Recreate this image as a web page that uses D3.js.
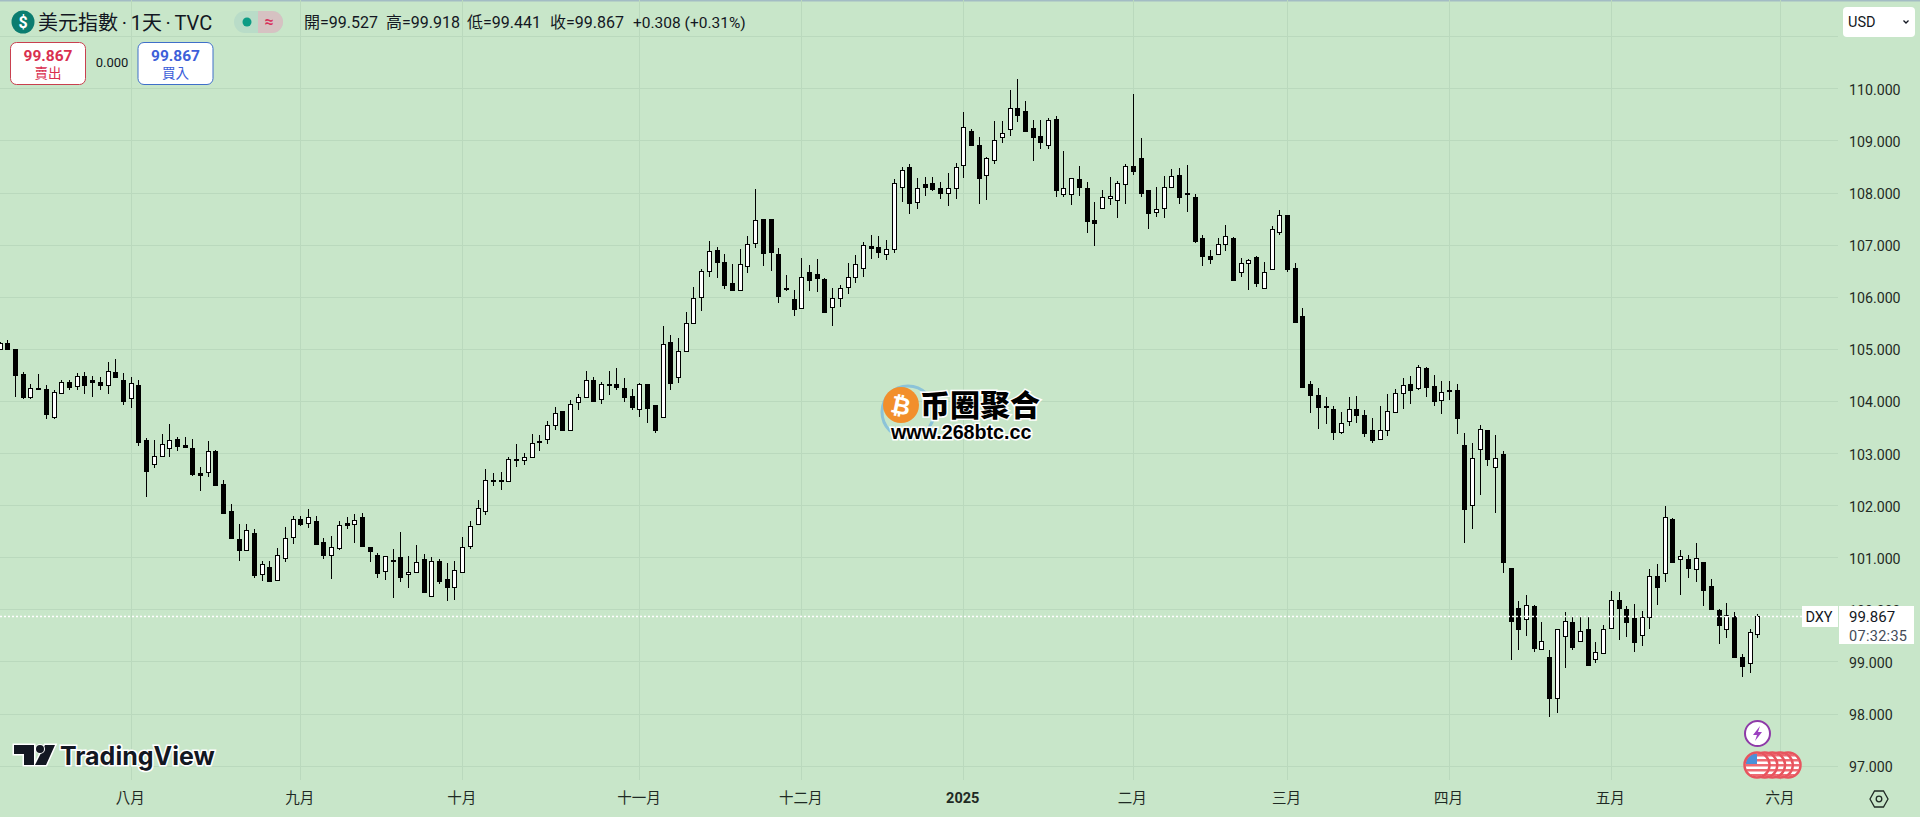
<!DOCTYPE html>
<html>
<head>
<meta charset="utf-8">
<script src="https://cdn.jsdelivr.net/npm/d3@7"></script>
<style>
    html, body { margin: 0; padding: 0; background: #fff; overflow: hidden; }
    text { font-family: Roboto, "Noto Sans CJK TC", sans-serif; }
</style>
</head>
<body>
<div id="chart"></div>
<script>
// DXY daily candles
let opens = [
    104.99,105.12,104.99,104.52,104.08,104.24,104.22,103.70,104.16,104.36,
    104.29,104.48,104.40,104.36,104.31,104.55,104.41,104.06,104.31,103.24,
    102.78,102.95,103.09,103.26,103.15,103.09,102.61,102.63,103.04,102.40,
    101.88,101.34,101.13,101.46,100.67,100.81,100.56,100.99,101.38,101.73,
    101.66,101.69,101.29,101.05,101.18,101.65,101.64,101.77,101.19,101.04,
    100.74,100.95,101.00,100.68,100.72,100.96,100.26,100.92,100.59,100.42,
    100.72,101.22,101.63,101.89,102.48,102.48,102.47,102.88,102.87,102.92,
    103.23,103.26,103.54,103.80,103.44,103.97,104.08,104.41,104.04,104.32,
    104.32,104.24,104.09,103.85,104.32,103.92,103.70,105.14,104.45,104.95,
    105.49,106.00,106.49,106.89,106.66,106.26,106.12,106.58,107.04,107.49,
    107.49,106.81,106.16,105.95,105.78,106.47,106.43,106.34,105.80,105.97,
    106.18,106.37,106.56,106.97,106.95,106.81,106.92,108.10,108.48,107.81,
    108.16,108.18,108.08,108.00,108.08,108.52,109.19,108.92,108.33,108.62,
    109.07,109.22,109.63,109.56,109.23,109.08,108.92,109.41,107.98,107.98,
    108.25,108.09,107.47,107.71,107.89,107.85,108.16,108.50,108.67,108.04,
    107.62,107.70,108.10,108.33,108.00,107.91,107.12,106.79,106.81,107.02,
    107.12,106.47,106.64,106.76,106.17,106.53,107.25,107.56,106.56,105.62,
    104.32,104.11,103.90,103.84,103.41,103.61,103.84,103.72,103.44,103.26,
    103.44,103.78,104.15,104.32,104.24,104.64,104.28,104.01,104.21,104.20,
    103.15,102.00,103.07,103.44,102.74,102.99,100.79,100.02,99.81,100.06,
    99.23,99.08,98.29,99.48,99.75,99.40,99.62,99.04,99.17,99.65,
    100.17,100.00,99.83,99.50,99.85,100.63,100.69,101.73,100.96,100.96,
    100.77,100.90,100.44,99.98,99.63,99.88,99.08,98.96,99.527
];
let highs = [
    105.14,105.17,105.00,104.55,104.32,104.52,104.30,104.21,104.41,104.41,
    104.54,104.55,104.48,104.45,104.75,104.80,104.53,104.45,104.41,103.29,
    103.24,103.37,103.56,103.30,103.31,103.27,102.73,103.23,103.05,102.48,
    102.02,101.64,101.64,101.55,100.93,100.92,101.18,101.58,101.79,101.80,
    101.92,101.79,101.36,101.41,101.70,101.78,101.83,101.85,101.19,101.09,
    101.02,101.16,101.48,101.02,101.23,101.06,101.00,100.97,100.88,100.92,
    101.38,101.70,102.09,102.69,102.61,102.63,102.93,103.17,103.00,103.36,
    103.35,103.61,103.88,103.80,104.01,104.13,104.57,104.45,104.36,104.57,
    104.63,104.43,104.22,104.34,104.32,103.93,105.44,105.26,105.21,105.70,
    106.18,106.53,107.07,106.95,106.81,106.62,106.91,107.16,108.06,107.49,
    107.50,106.93,106.41,106.13,106.74,106.60,106.72,106.36,106.16,106.22,
    106.64,106.80,107.05,107.18,107.16,107.08,108.26,108.48,108.54,108.27,
    108.29,108.29,108.20,108.37,108.57,109.54,109.21,109.06,108.69,109.37,
    109.37,109.97,110.18,109.76,109.39,109.39,109.43,109.46,108.80,108.27,
    108.50,108.20,107.82,108.04,108.29,108.23,108.55,109.89,109.04,108.05,
    108.10,108.31,108.45,108.47,108.53,107.98,107.18,106.89,107.12,107.38,
    107.15,106.74,106.73,106.79,106.67,107.35,107.66,107.56,106.64,105.78,
    104.39,104.24,104.07,103.91,103.78,104.07,104.09,103.83,103.67,103.90,
    104.13,104.22,104.44,104.47,104.69,104.65,104.49,104.39,104.38,104.32,
    103.38,103.19,103.53,103.44,103.34,103.03,100.79,100.15,100.27,100.09,
    99.76,99.22,99.63,99.94,99.85,99.88,99.85,99.37,99.70,100.36,
    100.33,100.06,100.10,99.96,100.77,100.86,101.98,101.76,101.13,101.05,
    101.27,100.91,100.58,100.00,100.12,99.94,99.15,99.62,99.918
];
let lows = [
    104.98,104.98,104.08,104.04,104.04,104.21,103.66,103.66,104.13,104.20,
    104.21,104.13,104.08,104.21,104.13,104.45,103.92,103.86,103.14,102.16,
    102.71,102.93,102.92,103.04,103.10,102.56,102.27,102.54,102.38,101.83,
    101.37,100.93,101.11,100.60,100.55,100.52,100.55,100.90,101.26,101.59,
    101.56,101.23,100.97,100.58,101.14,101.54,101.27,101.21,100.90,100.61,
    100.56,100.22,100.52,100.41,100.71,100.33,100.24,100.49,100.16,100.18,
    100.70,101.16,101.62,101.81,102.37,102.29,102.46,102.74,102.77,102.91,
    103.04,103.17,103.44,103.44,103.43,103.83,104.07,104.00,103.94,104.11,
    104.21,103.98,103.83,103.69,103.58,103.38,103.69,104.20,104.35,104.95,
    105.48,105.73,106.38,106.35,106.14,106.12,106.12,106.46,106.94,106.59,
    106.50,105.87,106.10,105.62,105.77,106.10,106.09,105.71,105.43,105.81,
    106.06,106.27,106.37,106.73,106.74,106.71,106.83,107.82,107.59,107.68,
    107.94,108.03,107.87,107.74,107.87,108.28,108.91,107.77,107.86,108.55,
    108.95,109.08,109.35,109.18,108.60,108.83,108.83,107.91,107.91,107.76,
    107.93,107.22,106.97,107.69,107.76,107.51,107.78,108.33,107.91,107.30,
    107.53,107.51,108.09,107.78,107.63,107.04,106.58,106.63,106.81,106.88,
    106.32,106.38,106.13,106.19,106.17,106.52,107.18,106.48,105.51,104.25,
    103.77,103.47,103.56,103.24,103.37,103.52,103.58,103.31,103.20,103.26,
    103.33,103.77,103.85,103.95,104.20,104.08,103.90,103.75,104.02,103.37,
    101.28,101.55,102.20,102.75,101.85,100.70,99.03,99.22,99.49,99.19,
    99.23,97.94,98.01,98.88,99.22,99.40,98.92,98.96,99.16,99.63,
    99.42,99.47,99.19,99.30,99.62,100.08,100.52,100.91,100.27,100.61,
    100.52,100.06,100.00,99.34,99.45,99.06,98.70,98.78,99.441
];
let closes = [
    105.12,104.99,104.49,104.08,104.25,104.22,103.74,104.18,104.36,104.27,
    104.47,104.31,104.37,104.31,104.57,104.45,104.00,104.34,103.22,102.66,
    102.94,103.18,103.24,103.14,103.12,102.60,102.57,103.03,102.39,101.84,
    101.37,101.13,101.52,100.66,100.86,100.55,101.04,101.36,101.73,101.64,
    101.77,101.25,101.04,101.19,101.61,101.62,101.71,101.22,101.11,100.70,
    101.02,100.93,100.62,100.72,100.90,100.34,100.92,100.55,100.42,100.75,
    101.20,101.59,101.94,102.48,102.46,102.46,102.88,102.87,102.92,103.20,
    103.22,103.53,103.76,103.44,103.95,104.07,104.41,104.00,104.32,104.31,
    104.27,104.07,103.89,104.32,103.87,103.44,105.10,104.35,104.95,105.50,
    105.97,106.49,106.87,106.67,106.23,106.13,106.62,107.02,107.48,106.83,
    106.86,106.02,106.14,105.77,106.37,106.32,106.35,105.71,105.97,106.16,
    106.37,106.62,107.00,106.94,106.85,106.92,108.19,108.43,107.80,108.08,
    108.11,108.07,108.00,108.08,108.48,109.25,108.92,108.27,108.67,109.00,
    109.15,109.63,109.49,109.19,109.07,108.96,109.40,108.05,108.08,108.27,
    108.11,107.46,107.42,107.91,107.94,108.18,108.50,108.42,108.00,107.61,
    107.69,108.10,108.32,107.92,107.97,107.06,106.79,106.73,107.02,107.16,
    106.33,106.64,106.70,106.27,106.47,107.29,107.56,106.53,105.52,104.26,
    104.12,103.89,103.89,103.41,103.57,103.84,103.72,103.39,103.24,103.45,
    103.80,104.15,104.30,104.20,104.66,104.27,104.00,104.18,104.19,103.68,
    101.93,102.90,103.47,102.89,102.90,100.91,99.78,99.63,100.09,99.26,
    99.40,98.30,99.63,99.77,99.28,99.58,98.93,99.19,99.63,100.17,
    100.03,99.76,99.38,99.86,100.63,100.42,101.78,100.91,101.02,100.80,
    100.98,100.38,100.01,99.69,99.90,99.08,98.92,99.56,99.867
];

// month ticks sit on bar numbers, the last one is past the newest bar
let monthBars = [17, 39, 60, 83, 104, 125, 147, 167, 188, 209, 231];
let monthLabels = ["八月", "九月", "十月", "十一月", "十二月", "2025", "二月", "三月", "四月", "五月", "六月"];
let priceTicks = [97, 98, 99, 100, 101, 102, 103, 104, 105, 106, 107, 108, 109, 110];
let gridPrices = priceTicks.concat([111]);
let lastPrice = 99.867;
let ohlcLabels = [
    ["開=99.527", 304], ["高=99.918", 386], ["低=99.441", 467], ["收=99.867", 550]
];

const W = 1920, H = 826;
const plotRight = 1838, plotBottom = 780, paneBottom = 817;
const bg = "#c8e6c9", gridCol = "#bad9bd", axisText = "#1f2a24";

let svg = d3.select("#chart").append("svg")
    .attr("width", W)
    .attr("height", H)
    .style("display", "block");

svg.append("rect").attr("width", W).attr("height", paneBottom).attr("fill", bg);
svg.append("rect").attr("width", W).attr("height", 1.5).attr("fill", "#a3bcc4");

let x = d3.scaleLinear().domain([0, 228]).range([-0.38, 1757.3]);
let y = d3.scaleLinear().domain([97, 110]).range([765.6, 88.3]);

// grid
let xGrid = svg.append("g")
    .attr("transform", "translate(0," + plotBottom + ")")
    .call(d3.axisBottom(x).tickValues(monthBars).tickSize(-plotBottom).tickFormat(""));
xGrid.select(".domain").remove();
xGrid.selectAll("line").attr("stroke", gridCol).attr("shape-rendering", "crispEdges");

let yGrid = svg.append("g")
    .call(d3.axisRight(y).tickValues(gridPrices).tickSize(plotRight).tickFormat(""));
yGrid.select(".domain").remove();
yGrid.selectAll("line").attr("stroke", gridCol).attr("shape-rendering", "crispEdges");

// candles
let bars = d3.range(opens.length);
let candles = svg.append("g").selectAll("g").data(bars).enter().append("g");

candles.append("line")
    .attr("x1", i => Math.round(x(i)) + 0.5)
    .attr("x2", i => Math.round(x(i)) + 0.5)
    .attr("y1", i => y(highs[i]))
    .attr("y2", i => y(lows[i]))
    .attr("stroke", "#000")
    .attr("shape-rendering", "crispEdges");

candles.append("rect")
    .attr("x", i => Math.round(x(i)) - 1.5)
    .attr("width", 4)
    .attr("y", i => Math.round(y(Math.max(opens[i], closes[i]))) + 0.5)
    .attr("height", i => Math.max(1, Math.round(y(Math.min(opens[i], closes[i]))) - Math.round(y(Math.max(opens[i], closes[i])))))
    .attr("fill", i => closes[i] >= opens[i] ? "#fff" : "#000")
    .attr("stroke", "#000")
    .attr("shape-rendering", "crispEdges");

// last price line goes over the candles
svg.append("line")
    .attr("x1", 0).attr("x2", plotRight)
    .attr("y1", Math.round(y(lastPrice)) + 0.5).attr("y2", Math.round(y(lastPrice)) + 0.5)
    .attr("stroke", "#fff").attr("stroke-dasharray", "2,2").attr("stroke-width", 1.5);

// price axis
let yAxis = svg.append("g")
    .attr("transform", "translate(1849,1.5)")
    .call(d3.axisRight(y).tickValues(priceTicks).tickSize(0).tickPadding(0).tickFormat(d3.format(".3f")));
yAxis.select(".domain").remove();
yAxis.selectAll("text")
    .attr("fill", axisText)
    .style("font-size", "14.2px");

// time axis
let xAxis = svg.append("g")
    .attr("transform", "translate(-1,793)")
    .call(d3.axisBottom(x).tickValues(monthBars).tickSize(0).tickPadding(0)
        .tickFormat(d => monthLabels[monthBars.indexOf(d)]));
xAxis.select(".domain").remove();
xAxis.selectAll("text")
    .attr("fill", axisText)
    .style("font-size", "14.5px")
    .style("font-weight", d => d === 125 ? 700 : 400);

// last price tags
svg.append("rect").attr("x", 1802).attr("y", 606).attr("width", 36).attr("height", 21).attr("fill", "#fff");
svg.append("rect").attr("x", 1839).attr("y", 606).attr("width", 75).attr("height", 38).attr("fill", "#fff");
svg.append("text").attr("x", 1819).attr("y", 622).attr("text-anchor", "middle").attr("fill", "#131722").style("font-size", "14.5px").text("DXY");
svg.append("text").attr("x", 1849).attr("y", 622).attr("fill", "#131722").style("font-size", "15px").text("99.867");
svg.append("text").attr("x", 1849).attr("y", 641).attr("fill", "#444b57").style("font-size", "14.5px").style("letter-spacing", "0.3px").text("07:32:35");

// header
svg.append("circle").attr("cx", 23).attr("cy", 22).attr("r", 11.5).attr("fill", "#0b7d70");
svg.append("text").attr("x", 23).attr("y", 27.5).attr("text-anchor", "middle").attr("fill", "#fff")
    .style("font-size", "16px").style("font-weight", 700).text("$");
svg.append("text").attr("x", 38).attr("y", 30).attr("fill", "#131722")
    .style("font-size", "20px").style("word-spacing", "-1.25px").text("美元指數 · 1天 · TVC");

svg.append("rect").attr("x", 234).attr("y", 11).attr("width", 49).attr("height", 22).attr("rx", 11).attr("fill", "#b9dcc8");
svg.append("path").attr("d", "M258,11h14a11,11 0 0 1 0,22h-14z").attr("fill", "#d6c2c2");
svg.append("circle").attr("cx", 247).attr("cy", 22).attr("r", 4.5).attr("fill", "#0d9c85");
svg.append("text").attr("x", 269).attr("y", 27).attr("text-anchor", "middle").attr("fill", "#d8315b")
    .style("font-size", "16px").style("font-weight", 700).text("≈");

svg.selectAll(".ohlc").data(ohlcLabels).enter().append("text")
    .attr("class", "ohlc")
    .attr("x", d => d[1]).attr("y", 28)
    .attr("fill", "#131722")
    .style("font-size", "16px")
    .text(d => d[0]);
svg.append("text").attr("x", 633).attr("y", 28).attr("fill", "#131722").style("font-size", "15.5px").text("+0.308 (+0.31%)");

// sell / buy boxes
svg.append("rect").attr("x", 10.5).attr("y", 42.5).attr("width", 75).attr("height", 42).attr("rx", 6).attr("fill", "#fff").attr("stroke", "#c9404f");
svg.append("text").attr("x", 48).attr("y", 61).attr("text-anchor", "middle").attr("fill", "#d9304f").style("font-size", "15.5px").style("font-weight", 700).text("99.867");
svg.append("text").attr("x", 48).attr("y", 78).attr("text-anchor", "middle").attr("fill", "#d9304f").style("font-size", "13.5px").text("賣出");
svg.append("text").attr("x", 112).attr("y", 67).attr("text-anchor", "middle").attr("fill", "#131722").style("font-size", "13px").text("0.000");
svg.append("rect").attr("x", 138).attr("y", 42.5).attr("width", 75).attr("height", 42).attr("rx", 6).attr("fill", "#fff").attr("stroke", "#3f6fc9");
svg.append("text").attr("x", 175.5).attr("y", 61).attr("text-anchor", "middle").attr("fill", "#3d5fd9").style("font-size", "15.5px").style("font-weight", 700).text("99.867");
svg.append("text").attr("x", 175.5).attr("y", 78).attr("text-anchor", "middle").attr("fill", "#3d5fd9").style("font-size", "13.5px").text("買入");

// currency button
svg.append("rect").attr("x", 1843).attr("y", 7).attr("width", 72).attr("height", 30).attr("rx", 4).attr("fill", "#fff");
svg.append("text").attr("x", 1848).attr("y", 27).attr("fill", "#131722").style("font-size", "14.5px").text("USD");
svg.append("path").attr("d", "M1903.5,20.5l2.5,2.5l2.5,-2.5").attr("fill", "none").attr("stroke", "#131722").attr("stroke-width", 1.3);

// settings hexagon
svg.append("path").attr("d", "M1870,799l4.5,-8h9l4.5,8l-4.5,8h-9z").attr("fill", "none").attr("stroke", "#1f2a24").attr("stroke-width", 1.3);
svg.append("circle").attr("cx", 1879).attr("cy", 799).attr("r", 2.8).attr("fill", "none").attr("stroke", "#1f2a24").attr("stroke-width", 1.3);

// TradingView logo
let logo = svg.append("g");
logo.append("path")
    .attr("d", "M14,745h20v20h-10v-11h-10z M45,745h10l-9,20h-11z")
    .attr("fill", "#131722").attr("stroke", "#fff").attr("stroke-width", 3).attr("paint-order", "stroke");
logo.append("circle").attr("cx", 40).attr("cy", 749).attr("r", 4)
    .attr("fill", "#131722").attr("stroke", "#fff").attr("stroke-width", 2).attr("paint-order", "stroke");
logo.append("text").attr("x", 60).attr("y", 765)
    .attr("fill", "#131722").attr("stroke", "#fff").attr("stroke-width", 3).attr("paint-order", "stroke")
    .style("font-family", "Inter, sans-serif").style("font-size", "25px").style("font-weight", 700)
    .text("TradingView");

// site watermark
let mark = svg.append("g");
mark.append("circle").attr("cx", 908).attr("cy", 412).attr("r", 26)
    .attr("fill", "none").attr("stroke", "#8cc3d8").attr("stroke-width", 3);
mark.append("circle").attr("cx", 901).attr("cy", 405).attr("r", 18).attr("fill", "#f28f2c");
mark.append("text").attr("x", 901).attr("y", 414).attr("text-anchor", "middle").attr("fill", "#fff")
    .attr("transform", "rotate(12 901 405)")
    .style("font-family", "'DejaVu Sans', sans-serif").style("font-size", "24px").style("font-weight", 700).text("₿");
mark.append("text").attr("x", 920).attr("y", 416)
    .attr("fill", "#000").attr("stroke", "#fff").attr("stroke-width", 3).attr("paint-order", "stroke")
    .style("font-family", "'Noto Sans CJK SC', sans-serif").style("font-size", "30px").style("font-weight", 900)
    .text("币圈聚合");
mark.append("text").attr("x", 891).attr("y", 439)
    .attr("fill", "#000").attr("stroke", "#fff").attr("stroke-width", 3).attr("paint-order", "stroke")
    .style("font-family", "'Liberation Sans', sans-serif").style("font-size", "19.7px").style("font-weight", 700)
    .text("www.268btc.cc");

// event badges
svg.append("circle").attr("cx", 1757.5).attr("cy", 733.5).attr("r", 12.5)
    .attr("fill", "#fff").attr("stroke", "#8e3aa8").attr("stroke-width", 2);
svg.append("path").attr("d", "M1760,726l-7,9h4l-2,6l7,-9h-4z").attr("fill", "#9c3fc0");

let flagSlots = [4, 3, 2, 1, 0];
let defs = svg.append("defs");
flagSlots.forEach(k => {
    let cx = 1757 + k * 7.75, cy = 765;
    defs.append("clipPath").attr("id", "flag" + k).append("circle").attr("cx", cx).attr("cy", cy).attr("r", 11.5);
    let f = svg.append("g");
    let inner = f.append("g").attr("clip-path", "url(#flag" + k + ")");
    inner.append("rect").attr("x", cx - 13).attr("y", cy - 13).attr("width", 26).attr("height", 26).attr("fill", "#fff");
    d3.range(5).forEach(s => {
        inner.append("rect").attr("x", cx - 13).attr("y", cy - 11 + s * 5).attr("width", 26).attr("height", 2.5).attr("fill", "#ee6a72");
    });
    inner.append("rect").attr("x", cx - 11).attr("y", cy - 13).attr("width", 11).attr("height", 12).attr("fill", "#4a90d9");
    f.append("circle").attr("cx", cx).attr("cy", cy).attr("r", 12.5)
        .attr("fill", "none").attr("stroke", "#e8545e").attr("stroke-width", 2.5);
});
</script>
</body>
</html>
